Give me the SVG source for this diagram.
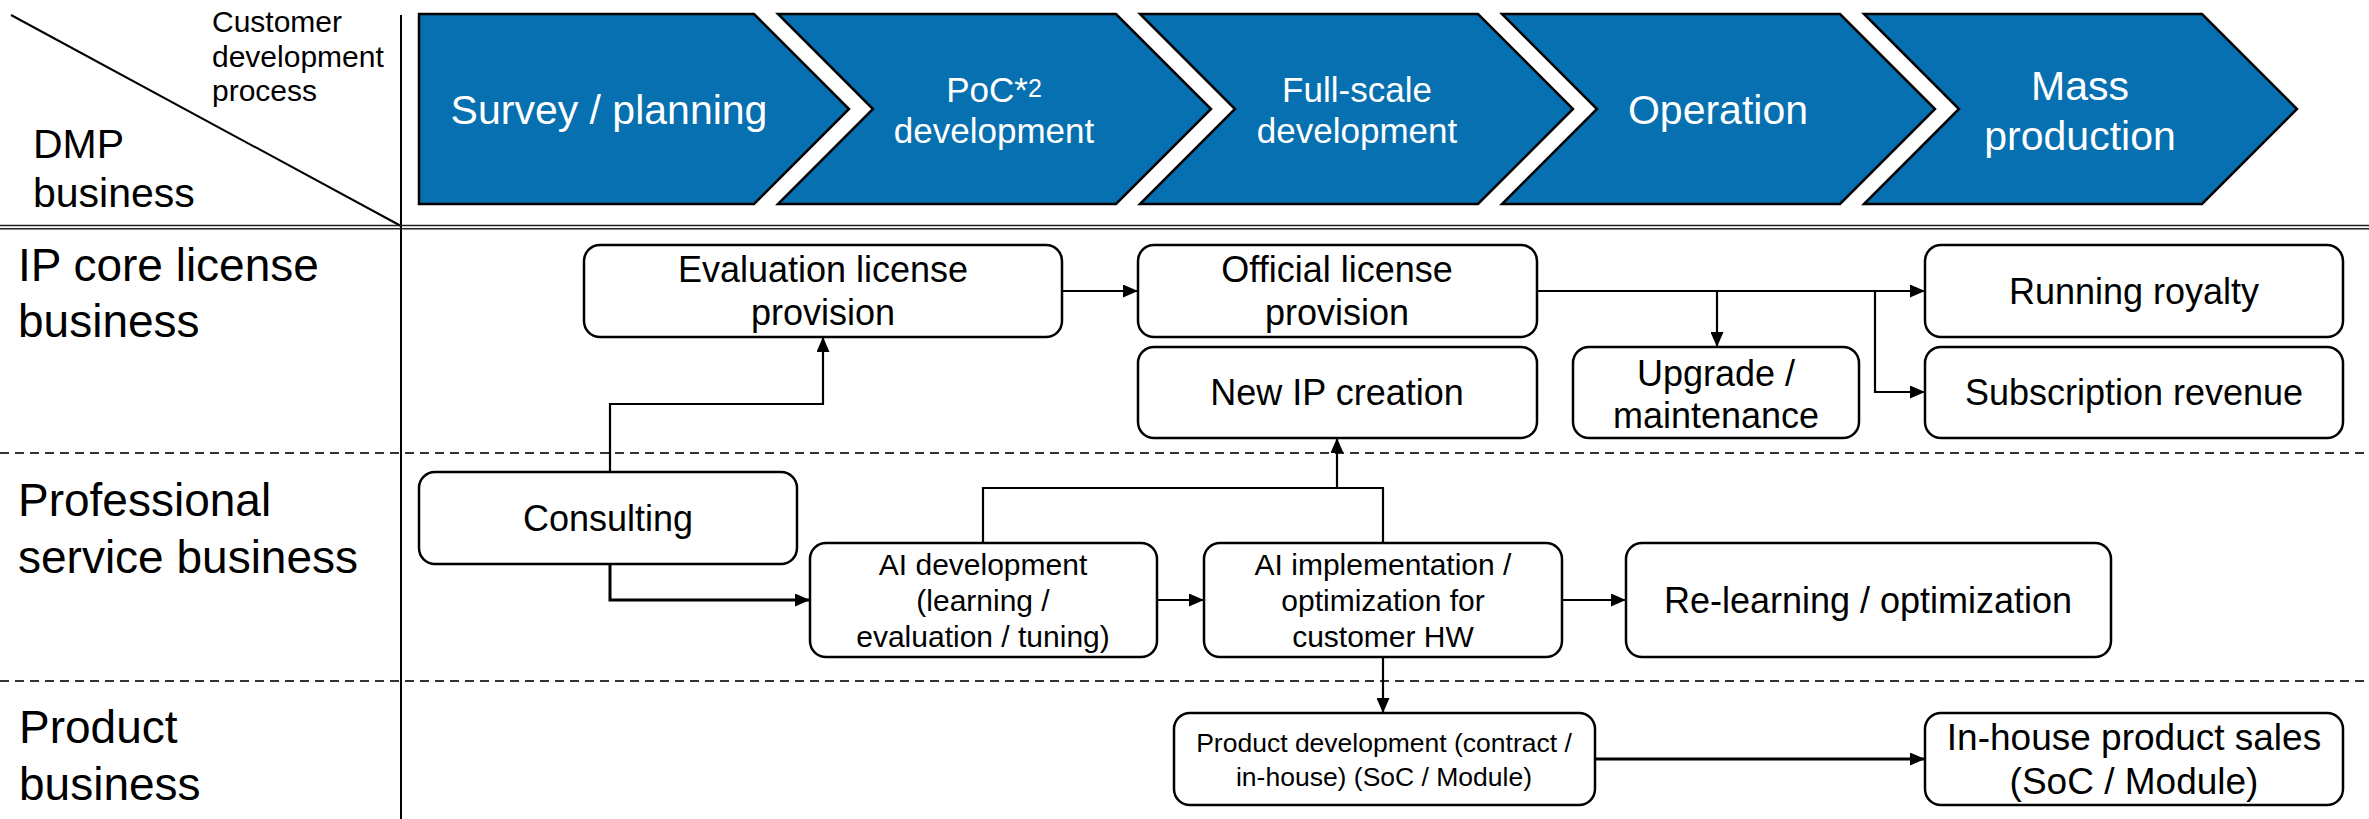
<svg xmlns="http://www.w3.org/2000/svg" width="2369" height="819" viewBox="0 0 2369 819">
  <style>
    text { font-family: "Liberation Sans", Arial, sans-serif; fill: #000; }
    .stage { fill: #0770b0; stroke: #000; stroke-width: 2.5; stroke-linejoin: miter; }
    .stage-label { fill: #fff; text-anchor: middle; }
    .box { fill: #fff; stroke: #000; stroke-width: 2.5; }
    .box-label { text-anchor: middle; }
    .row-label { font-size: 46px; }
    .grid { stroke: #000; stroke-width: 2; fill: none; }
    .rule { stroke: #222; stroke-width: 1.5; }
    .lane { stroke: #333; stroke-width: 2; stroke-dasharray: 9 6; }
    .link { fill: none; stroke: #000; stroke-width: 2.2; }
    .link.heavy { stroke-width: 3; }
  </style>
  <defs>
    <marker id="arrow" markerUnits="userSpaceOnUse" markerWidth="15" markerHeight="13" refX="15" refY="6.5" orient="auto">
      <path d="M0,0 L15,6.5 L0,13 Z" fill="#000"/>
    </marker>
  </defs>

  <rect width="2369" height="819" fill="#fff"/>

  <!-- table frame -->
  <g id="frame">
    <line class="grid" x1="11" y1="15" x2="401" y2="226"/>
    <line class="grid" x1="401" y1="15" x2="401" y2="819"/>
    <line class="rule" x1="0" y1="225.5" x2="2369" y2="225.5"/>
    <line class="rule" x1="0" y1="228.8" x2="2369" y2="228.8"/>
    <line class="lane" x1="0" y1="453" x2="2369" y2="453"/>
    <line class="lane" x1="0" y1="681" x2="2369" y2="681"/>
  </g>

  <!-- header corner -->
  <g id="header-corner">
    <text x="212" y="32" font-size="30">Customer</text>
    <text x="212" y="67" font-size="30">development</text>
    <text x="212" y="101" font-size="30">process</text>
    <text x="33" y="158" font-size="41">DMP</text>
    <text x="33" y="207" font-size="41">business</text>
  </g>

  <!-- row headings -->
  <g id="row-ip">
    <text class="row-label" x="18" y="281">IP core license</text>
    <text class="row-label" x="18" y="337">business</text>
  </g>
  <g id="row-service">
    <text class="row-label" x="18" y="516">Professional</text>
    <text class="row-label" x="18" y="573">service business</text>
  </g>
  <g id="row-product">
    <text class="row-label" x="19" y="743">Product</text>
    <text class="row-label" x="19" y="800">business</text>
  </g>

  <!-- process stages -->
  <g id="stage-survey">
    <path class="stage" d="M419,14 H754 L849,109 L754,204 H419 Z"/>
    <text class="stage-label" x="609" y="124" font-size="41">Survey / planning</text>
  </g>
  <g id="stage-poc">
    <path class="stage" d="M778,14 H1116 L1211,109 L1116,204 H778 L873,109 Z"/>
    <text class="stage-label" x="994" y="102" font-size="35">PoC*<tspan font-size="25" dy="-5">2</tspan></text>
    <text class="stage-label" x="994" y="143" font-size="35">development</text>
  </g>
  <g id="stage-full">
    <path class="stage" d="M1140,14 H1478 L1573,109 L1478,204 H1140 L1235,109 Z"/>
    <text class="stage-label" x="1357" y="102" font-size="35">Full-scale</text>
    <text class="stage-label" x="1357" y="143" font-size="35">development</text>
  </g>
  <g id="stage-operation">
    <path class="stage" d="M1502,14 H1840 L1935,109 L1840,204 H1502 L1597,109 Z"/>
    <text class="stage-label" x="1718" y="124" font-size="41">Operation</text>
  </g>
  <g id="stage-mass">
    <path class="stage" d="M1864,14 H2202 L2297,109 L2202,204 H1864 L1959,109 Z"/>
    <text class="stage-label" x="2080" y="100" font-size="41">Mass</text>
    <text class="stage-label" x="2080" y="150" font-size="41">production</text>
  </g>

  <!-- connectors -->
  <g id="connectors">
    <path class="link" d="M610,472 V404 H823 V337" marker-end="url(#arrow)"/>
    <path class="link heavy" d="M610,564 V600 H810" marker-end="url(#arrow)"/>
    <path class="link" d="M1157,600 H1204" marker-end="url(#arrow)"/>
    <path class="link" d="M1562,600 H1626" marker-end="url(#arrow)"/>
    <path class="link" d="M983,543 V488 H1383 V543"/>
    <path class="link" d="M1337,488 V438" marker-end="url(#arrow)"/>
    <path class="link" d="M1383,657 V713" marker-end="url(#arrow)"/>
    <path class="link heavy" d="M1595,759 H1925" marker-end="url(#arrow)"/>
    <path class="link" d="M1062,291 H1138" marker-end="url(#arrow)"/>
    <path class="link" d="M1537,291 H1925" marker-end="url(#arrow)"/>
    <path class="link" d="M1717,291 V347" marker-end="url(#arrow)"/>
    <path class="link" d="M1875,291 V392 H1925" marker-end="url(#arrow)"/>
  </g>

  <!-- IP core license nodes -->
  <g id="eval-license">
    <rect class="box" x="584" y="245" width="478" height="92" rx="16"/>
    <text class="box-label" x="823" y="282" font-size="36">Evaluation license</text>
    <text class="box-label" x="823" y="325" font-size="36">provision</text>
  </g>
  <g id="official-license">
    <rect class="box" x="1138" y="245" width="399" height="92" rx="16"/>
    <text class="box-label" x="1337" y="282" font-size="36">Official license</text>
    <text class="box-label" x="1337" y="325" font-size="36">provision</text>
  </g>
  <g id="new-ip">
    <rect class="box" x="1138" y="347" width="399" height="91" rx="16"/>
    <text class="box-label" x="1337" y="405" font-size="36">New IP creation</text>
  </g>
  <g id="upgrade">
    <rect class="box" x="1573" y="347" width="286" height="91" rx="16"/>
    <text class="box-label" x="1716" y="386" font-size="36">Upgrade /</text>
    <text class="box-label" x="1716" y="428" font-size="36">maintenance</text>
  </g>
  <g id="running-royalty">
    <rect class="box" x="1925" y="245" width="418" height="92" rx="16"/>
    <text class="box-label" x="2134" y="304" font-size="36">Running royalty</text>
  </g>
  <g id="subscription">
    <rect class="box" x="1925" y="347" width="418" height="91" rx="16"/>
    <text class="box-label" x="2134" y="405" font-size="36">Subscription revenue</text>
  </g>

  <!-- professional service nodes -->
  <g id="consulting">
    <rect class="box" x="419" y="472" width="378" height="92" rx="16"/>
    <text class="box-label" x="608" y="531" font-size="36">Consulting</text>
  </g>
  <g id="ai-development">
    <rect class="box" x="810" y="543" width="347" height="114" rx="16"/>
    <text class="box-label" x="983" y="575" font-size="30">AI development</text>
    <text class="box-label" x="983" y="611" font-size="30">(learning /</text>
    <text class="box-label" x="983" y="647" font-size="30">evaluation / tuning)</text>
  </g>
  <g id="ai-implementation">
    <rect class="box" x="1204" y="543" width="358" height="114" rx="16"/>
    <text class="box-label" x="1383" y="575" font-size="30">AI implementation /</text>
    <text class="box-label" x="1383" y="611" font-size="30">optimization for</text>
    <text class="box-label" x="1383" y="647" font-size="30">customer HW</text>
  </g>
  <g id="relearning">
    <rect class="box" x="1626" y="543" width="485" height="114" rx="16"/>
    <text class="box-label" x="1868" y="613" font-size="36">Re-learning / optimization</text>
  </g>

  <!-- product nodes -->
  <g id="product-development">
    <rect class="box" x="1174" y="713" width="421" height="92" rx="16"/>
    <text class="box-label" x="1384" y="752" font-size="26.5">Product development (contract /</text>
    <text class="box-label" x="1384" y="786" font-size="26.5">in-house) (SoC / Module)</text>
  </g>
  <g id="product-sales">
    <rect class="box" x="1925" y="713" width="418" height="92" rx="16"/>
    <text class="box-label" x="2134" y="750" font-size="37">In-house product sales</text>
    <text class="box-label" x="2134" y="794" font-size="37">(SoC / Module)</text>
  </g>
</svg>
